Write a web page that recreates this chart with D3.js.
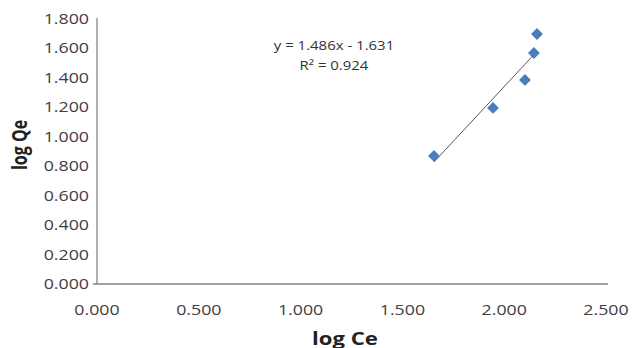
<!DOCTYPE html>
<html>
<head>
<meta charset="utf-8">
<script src="https://cdn.jsdelivr.net/npm/d3@7"></script>
<style>
  html, body { margin: 0; padding: 0; background: #fff; }
  svg { display: block; }
</style>
</head>
<body>
<svg id="chart" width="633" height="348"></svg>
<script>
// Data
const logCe = [1.655, 1.945, 2.102, 2.146, 2.161];
const logQe = [0.870, 1.196, 1.386, 1.569, 1.698];
const trendSlope = [1.486];
const trendIntercept = [-1.631];
const xTicks = [0, 0.5, 1.0, 1.5, 2.0, 2.5];
const yTicks = [0, 0.2, 0.4, 0.6, 0.8, 1.0, 1.2, 1.4, 1.6, 1.8];
const equationLines = ["y = 1.486x - 1.631", "R² = 0.924"];
const xTitle = "log Ce";
const yTitle = "log Qe";

const svg = d3.select("#chart");
const x = d3.scaleLinear().domain([0, 2.5]).range([97, 606]);
const y = d3.scaleLinear().domain([0, 1.8]).range([284, 19]);
const font = "'Open Sans', 'DejaVu Sans', sans-serif";
const SX = 1.27; // horizontal stretch of the reference's glyphs

// axes lines
svg.append("line").attr("x1", 97).attr("x2", 97).attr("y1", y(1.8) - 1).attr("y2", y(0))
  .attr("stroke", "#868686").attr("stroke-width", 1.3);
svg.append("line").attr("x1", 93).attr("x2", x(2.5) + 2).attr("y1", y(0)).attr("y2", y(0))
  .attr("stroke", "#868686").attr("stroke-width", 1.3);

// y tick labels
svg.append("g").selectAll("text").data(yTicks).join("text")
  .attr("transform", d => `translate(89,${y(d)}) scale(${SX},1)`)
  .attr("dy", "0.36em")
  .attr("text-anchor", "end")
  .attr("font-family", font).attr("font-size", 14)
  .attr("fill", "#404040")
  .text(d => d3.format(".3f")(d));

// x tick labels
svg.append("g").selectAll("text").data(xTicks).join("text")
  .attr("transform", d => `translate(${x(d)},310) scale(${SX},1)`)
  .attr("dy", "0.36em")
  .attr("text-anchor", "middle")
  .attr("font-family", font).attr("font-size", 14)
  .attr("fill", "#404040")
  .text(d => d3.format(".3f")(d));

// trendline from min to max x
const xr = d3.extent(logCe);
svg.append("line")
  .attr("x1", x(xr[0])).attr("y1", y(trendSlope[0] * xr[0] + trendIntercept[0]))
  .attr("x2", x(xr[1])).attr("y2", y(trendSlope[0] * xr[1] + trendIntercept[0]))
  .attr("stroke", "#595959").attr("stroke-width", 1);

// points (diamonds)
const sym = d3.symbol().type(d3.symbolSquare).size(70);
svg.append("g").selectAll("path").data(logCe.map((v, i) => [v, logQe[i]])).join("path")
  .attr("d", sym)
  .attr("transform", d => `translate(${x(d[0])},${y(d[1])}) rotate(45)`)
  .attr("fill", "#4a7ebb");

// equation
svg.append("g").selectAll("text").data(equationLines).join("text")
  .attr("transform", (d, i) => `translate(334,${45 + i * 20}) scale(1.15,1)`)
  .attr("dy", "0.36em")
  .attr("text-anchor", "middle")
  .attr("font-family", font).attr("font-size", 13)
  .attr("fill", "#333")
  .text(d => d);

// axis titles
svg.append("text")
  .attr("transform", `translate(345,345) scale(1.3,1)`)
  .attr("text-anchor", "middle")
  .attr("font-family", font).attr("font-weight", "bold").attr("font-size", 17)
  .attr("fill", "#222").text(xTitle);

svg.append("text")
  .attr("transform", "translate(27,145) rotate(-90) scale(1,1.3)")
  .attr("text-anchor", "middle")
  .attr("font-family", font).attr("font-weight", "bold").attr("font-size", 16)
  .attr("fill", "#222").text(yTitle);
</script>
</body>
</html>
